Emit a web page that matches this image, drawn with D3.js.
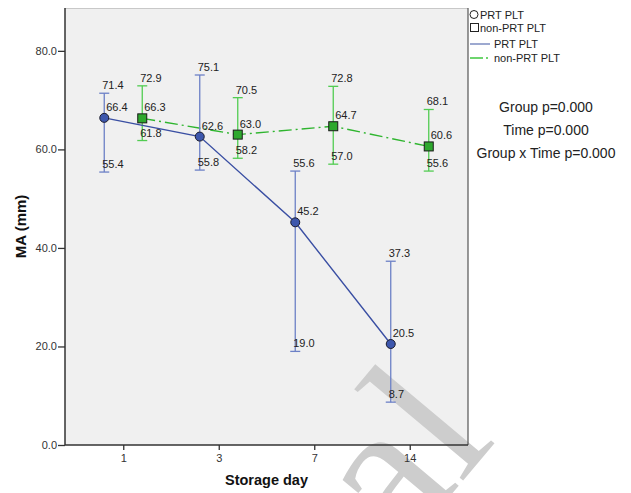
<!DOCTYPE html>
<html lang="en">
<head>
<meta charset="utf-8">
<title>MA by storage day</title>
<script src="https://cdn.jsdelivr.net/npm/d3@7"></script>
<style>
  body { margin: 0; background: #fff; }
  svg text { font-family: "Liberation Sans", Arial, sans-serif; fill: #222; }
  .tick text { font-size: 11px; fill: #333; }
  .lbl { font-size: 11px; }
  .title { font-size: 14.5px; font-weight: bold; fill: #111; }
</style>
</head>
<body>
<div id="chart"></div>
<script>
// storage days (x categories)
var days = ["1", "3", "7", "14"];

// PRT PLT: mean and error bar ends
var prtMean  = [66.4, 62.6, 45.2, 20.5];
var prtUpper = [71.4, 75.1, 55.6, 37.3];
var prtLower = [55.4, 55.8, 19.0, 8.7];

// non-PRT PLT
var nonMean  = [66.3, 63.0, 64.7, 60.6];
var nonUpper = [72.9, 70.5, 72.8, 68.1];
var nonLower = [61.8, 58.2, 57.0, 55.6];

var yTicks = [0, 20, 40, 60, 80];
var stats = ["Group p=0.000", "Time p=0.000", "Group x Time p=0.000"];

var w = 631, h = 493;
var pLeft = 65, pRight = 468, pTop = 8, pBottom = 445;

var svg = d3.select("#chart").append("svg")
  .attr("width", w).attr("height", h);

var x = d3.scalePoint().domain(days).range([pLeft, pRight]).padding(0.61);
var y = d3.scaleLinear().domain([0, 88.7]).range([pBottom, pTop]);

// plot background
svg.append("rect")
  .attr("x", pLeft).attr("y", pTop)
  .attr("width", pRight - pLeft).attr("height", pBottom - pTop)
  .attr("fill", "#f0f0f0");

// watermark
svg.append("text")
  .attr("transform", "translate(497,440) rotate(-50)")
  .attr("text-anchor", "end")
  .style("font-family", "'Liberation Serif', 'DejaVu Serif', serif")
  .style("font-size", "205px")
  .style("fill", "#cdcdcd")
  .text("Provisional");

// frame
svg.append("line").attr("x1", pLeft).attr("x2", pRight).attr("y1", pTop + 0.5).attr("y2", pTop + 0.5)
  .attr("stroke", "#c8c8c8");
svg.append("line").attr("x1", pRight).attr("x2", pRight).attr("y1", pTop).attr("y2", pBottom)
  .attr("stroke", "#555").attr("stroke-width", 1.2);

// axes
var yAxis = svg.append("g")
  .attr("transform", "translate(" + pLeft + ",0)")
  .call(d3.axisLeft(y).tickValues(yTicks).tickFormat(d3.format(".1f")).tickSizeOuter(0).tickSize(7).tickPadding(1));
yAxis.select(".domain").attr("stroke", "#333").attr("stroke-width", 1.5)
  .attr("d", "M0," + pBottom + "V" + pTop);
yAxis.selectAll(".tick line").attr("stroke", "#333").attr("stroke-width", 1.3);

var xAxis = svg.append("g")
  .attr("transform", "translate(0," + pBottom + ")")
  .call(d3.axisBottom(x).tickSizeOuter(0).tickSize(5).tickPadding(4));
xAxis.select(".domain").attr("stroke", "#333").attr("stroke-width", 1.5)
  .attr("d", "M" + pLeft + ",0H" + pRight);
xAxis.selectAll(".tick line").attr("stroke", "#333").attr("stroke-width", 1.3);

svg.append("text").attr("class", "title")
  .attr("transform", "translate(26," + ((pTop + pBottom) / 2) + ") rotate(-90)")
  .attr("text-anchor", "middle")
  .style("font-size", "15px")
  .text("MA (mm)");
svg.append("text").attr("class", "title")
  .attr("x", (pLeft + pRight) / 2).attr("y", 485)
  .attr("text-anchor", "middle")
  .text("Storage day");

// one group of bars / line / markers / labels
function drawSeries(mean, upper, lower, dx, opts) {
  var pts = days.map(function(d, i) {
    return { x: x(d) + dx, m: mean[i], u: upper[i], l: lower[i] };
  });
  var g = svg.append("g");

  g.selectAll(".bar").data(pts).enter().append("line")
    .attr("x1", function(d) { return d.x; }).attr("x2", function(d) { return d.x; })
    .attr("y1", function(d) { return y(d.u); }).attr("y2", function(d) { return y(d.l); })
    .attr("stroke", opts.bar).attr("stroke-width", 1.3);
  ["u", "l"].forEach(function(k) {
    g.selectAll(".cap" + k).data(pts).enter().append("line")
      .attr("x1", function(d) { return d.x - 5; }).attr("x2", function(d) { return d.x + 5; })
      .attr("y1", function(d) { return y(d[k]); }).attr("y2", function(d) { return y(d[k]); })
      .attr("stroke", opts.bar).attr("stroke-width", 1.3);
  });

  g.append("path").datum(pts)
    .attr("fill", "none")
    .attr("stroke", opts.line).attr("stroke-width", 1.4)
    .attr("stroke-dasharray", opts.dash)
    .attr("d", d3.line().x(function(d) { return d.x; }).y(function(d) { return y(d.m); }));

  if (opts.shape === "circle") {
    g.selectAll("circle").data(pts).enter().append("circle")
      .attr("cx", function(d) { return d.x; }).attr("cy", function(d) { return y(d.m); })
      .attr("r", 4.5).attr("fill", opts.fill).attr("stroke", "#1c1c2c").attr("stroke-width", 1);
  } else {
    g.selectAll("rect").data(pts).enter().append("rect")
      .attr("x", function(d) { return d.x - 4.5; }).attr("y", function(d) { return y(d.m) - 4.5; })
      .attr("width", 9).attr("height", 9)
      .attr("fill", opts.fill).attr("stroke", "#1a1a1a").attr("stroke-width", 1);
  }

  var f = d3.format(".1f");
  g.selectAll(".lu").data(pts).enter().append("text").attr("class", "lbl")
    .attr("x", function(d) { return d.x - 2; }).attr("y", function(d) { return y(d.u) - 4; })
    .text(function(d) { return f(d.u); });
  g.selectAll(".lm").data(pts).enter().append("text").attr("class", "lbl")
    .attr("x", function(d) { return d.x + 2; }).attr("y", function(d) { return y(d.m) - 7; })
    .text(function(d) { return f(d.m); });
  g.selectAll(".ll").data(pts).enter().append("text").attr("class", "lbl")
    .attr("x", function(d) { return d.x - 2; }).attr("y", function(d) { return y(d.l) - 4; })
    .text(function(d) { return f(d.l); });
}

drawSeries(nonMean, nonUpper, nonLower, 19,
  { bar: "#52cc52", line: "#2fb52f", fill: "#2ea82e", dash: "13,4,2,4", shape: "square" });
drawSeries(prtMean, prtUpper, prtLower, -19,
  { bar: "#6c80c6", line: "#3a4fa3", fill: "#3d57ad", dash: null, shape: "circle" });

// legend
var lg = svg.append("g").style("font-size", "11px");
lg.append("circle").attr("cx", 474).attr("cy", 14.5).attr("r", 4)
  .attr("fill", "none").attr("stroke", "#222").attr("stroke-width", 1);
lg.append("text").attr("x", 480).attr("y", 18.5).text("PRT PLT");
lg.append("rect").attr("x", 470.5).attr("y", 23.5).attr("width", 8).attr("height", 8)
  .attr("fill", "none").attr("stroke", "#222").attr("stroke-width", 1);
lg.append("text").attr("x", 480).attr("y", 32).text("non-PRT PLT");
lg.append("line").attr("x1", 470).attr("x2", 490).attr("y1", 44).attr("y2", 44)
  .attr("stroke", "#7d8cc0").attr("stroke-width", 1.5);
lg.append("text").attr("x", 494).attr("y", 48).text("PRT PLT");
lg.append("line").attr("x1", 470).attr("x2", 490).attr("y1", 58).attr("y2", 58)
  .attr("stroke", "#3fc83f").attr("stroke-width", 1.3).attr("stroke-dasharray", "13,3,2,3");
lg.append("text").attr("x", 494).attr("y", 62).text("non-PRT PLT");

// statistics text
svg.selectAll(".stat").data(stats).enter().append("text")
  .attr("x", 546).attr("y", function(d, i) { return 112 + i * 23; })
  .attr("text-anchor", "middle").style("font-size", "14px")
  .text(function(d) { return d; });
</script>
</body>
</html>
